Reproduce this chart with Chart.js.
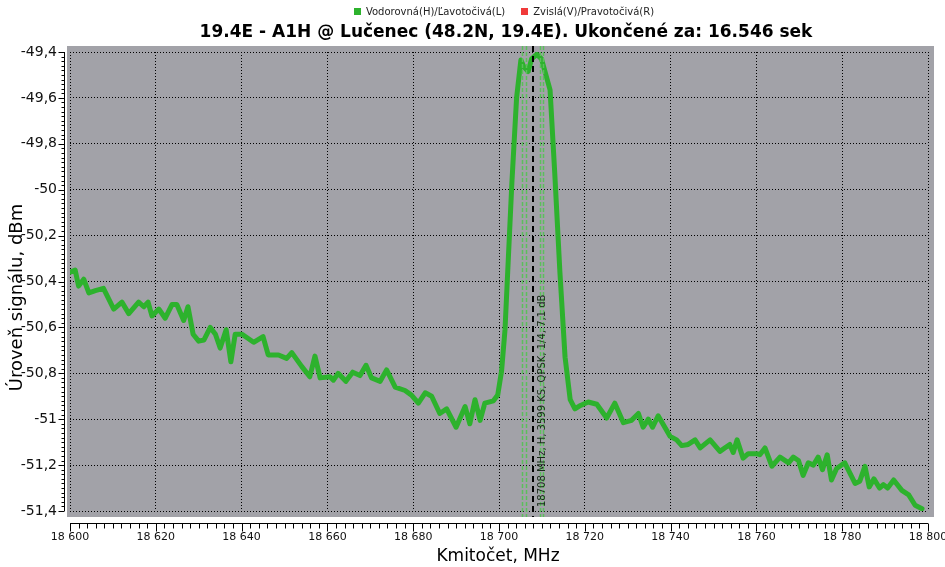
<!DOCTYPE html>
<html><head><meta charset="utf-8">
<script src="https://cdn.jsdelivr.net/npm/chart.js@4.4.1/dist/chart.umd.min.js"></script>
<style>html,body{margin:0;padding:0;background:#fff}</style>
</head><body>
<canvas id="c" width="945" height="567"></canvas>
<script>
// ---- data ----
const freqs = [18600.0,18601.2,18602.0,18603.2,18604.4,18605.9,18607.8,18610.2,18612.1,18613.7,18616.0,18617.2,18618.2,18619.1,18620.7,18622.2,18623.8,18624.9,18626.5,18627.5,18628.7,18630.0,18631.2,18632.7,18633.9,18635.0,18636.4,18637.5,18638.5,18640.1,18642.8,18645.0,18646.2,18648.6,18650.5,18651.7,18654.0,18655.9,18657.1,18658.3,18660.6,18661.4,18662.5,18664.3,18665.9,18667.6,18669.0,18670.3,18672.3,18673.8,18675.8,18678.1,18679.6,18681.2,18682.8,18684.3,18686.2,18687.8,18690.0,18692.1,18693.2,18694.4,18695.6,18696.7,18698.7,18699.7,18700.6,18701.4,18702.2,18703.0,18704.1,18705.1,18705.8,18706.8,18707.6,18708.8,18709.9,18711.9,18713.0,18714.2,18715.4,18716.6,18717.7,18719.0,18720.8,18722.8,18725.1,18727.0,18729.0,18730.9,18732.5,18733.6,18734.8,18735.8,18737.1,18739.9,18741.4,18742.6,18744.1,18745.7,18746.9,18749.2,18751.5,18753.8,18754.6,18755.5,18756.9,18758.1,18760.1,18760.8,18762.0,18763.6,18765.5,18767.5,18768.6,18769.8,18770.9,18772.1,18773.3,18774.4,18775.4,18776.5,18777.5,18778.7,18780.6,18783.0,18784.1,18785.3,18786.3,18787.4,18788.7,18789.6,18790.6,18792.0,18793.9,18795.5,18797.0,18798.6];
const levelsH = [-50.36,-50.35,-50.42,-50.39,-50.45,-50.44,-50.43,-50.52,-50.49,-50.54,-50.49,-50.51,-50.49,-50.55,-50.52,-50.56,-50.50,-50.50,-50.57,-50.51,-50.63,-50.66,-50.655,-50.60,-50.63,-50.69,-50.61,-50.75,-50.63,-50.63,-50.665,-50.64,-50.72,-50.72,-50.735,-50.71,-50.77,-50.815,-50.725,-50.82,-50.815,-50.83,-50.80,-50.835,-50.795,-50.81,-50.765,-50.82,-50.835,-50.785,-50.86,-50.875,-50.895,-50.93,-50.885,-50.90,-50.975,-50.955,-51.035,-50.945,-51.02,-50.915,-51.005,-50.93,-50.92,-50.895,-50.79,-50.61,-50.29,-49.97,-49.60,-49.435,-49.465,-49.485,-49.43,-49.41,-49.43,-49.565,-49.93,-50.36,-50.73,-50.915,-50.955,-50.94,-50.925,-50.935,-50.995,-50.93,-51.015,-51.005,-50.975,-51.035,-51.00,-51.035,-50.985,-51.075,-51.09,-51.115,-51.11,-51.09,-51.125,-51.09,-51.14,-51.11,-51.145,-51.09,-51.17,-51.15,-51.15,-51.155,-51.125,-51.205,-51.165,-51.19,-51.165,-51.18,-51.245,-51.19,-51.20,-51.165,-51.22,-51.155,-51.265,-51.215,-51.19,-51.28,-51.27,-51.205,-51.295,-51.26,-51.30,-51.285,-51.30,-51.265,-51.31,-51.33,-51.375,-51.39];
const levelsV = [];
const seriesNames = ['Vodorovná(H)/Ľavotočivá(L)', 'Zvislá(V)/Pravotočivá(R)'];
const seriesColors = ['#2db22d', '#f03a3a'];
const xTickValues = [18600,18620,18640,18660,18680,18700,18720,18740,18760,18780,18800];
const yTickValues = [-51.4,-51.2,-51,-50.8,-50.6,-50.4,-50.2,-50,-49.8,-49.6,-49.4];
const chartTitle = '19.4E - A1H @ Lučenec (48.2N, 19.4E). Ukončené za: 16.546 sek';
const xTitle = 'Kmitočet, MHz';
const yTitle = 'Úroveň signálu, dBm';
const carrierFreq = [18708];
const bandEdgeFreqs = [18705.4, 18706.3, 18709.5, 18710.2];
const carrierLabel = '18708 MHz, H, 3599 KS, QPSK, 1/4, 7,1 dB';

const FONT = "'DejaVu Sans', Verdana, sans-serif";
const fmtX = v => String(Math.round(v)).replace(/\B(?=(\d{3})+(?!\d))/g, ' ');
const fmtY = v => String(Math.round(v * 10) / 10).replace('.', ',');

const decor = {
  id: 'decor',
  beforeDraw(chart) {
    const {ctx, chartArea: a} = chart;
    ctx.save();
    ctx.fillStyle = '#a2a2a8';
    ctx.fillRect(a.left - 3, a.top - 6, a.right - a.left + 9, a.bottom - a.top + 12);
    ctx.restore();
  },
  afterDatasetsDraw(chart) {
    const {ctx, chartArea: a, scales: {x}} = chart;
    ctx.save();
    ctx.lineWidth = 1.5;
    ctx.setLineDash([4, 2]);
    ctx.strokeStyle = '#5cbf5c';
    bandEdgeFreqs.forEach(f => {
      const px = Math.round(x.getPixelForValue(f)) + 0.5;
      ctx.beginPath(); ctx.moveTo(px, a.top - 6); ctx.lineTo(px, a.bottom + 6); ctx.stroke();
    });
    ctx.lineWidth = 2;
    ctx.setLineDash([6, 4]);
    ctx.strokeStyle = '#000';
    carrierFreq.forEach(f => {
      const px = Math.round(x.getPixelForValue(f));
      ctx.beginPath(); ctx.moveTo(px, a.top - 6); ctx.lineTo(px, a.bottom + 6); ctx.stroke();
      ctx.save();
      ctx.setLineDash([]);
      ctx.translate(px + 9, a.bottom - 4);
      ctx.rotate(-Math.PI / 2);
      ctx.fillStyle = '#1a2a1a';
      ctx.font = "10px 'DejaVu Sans', sans-serif";
      ctx.textAlign = 'left';
      ctx.textBaseline = 'middle';
      ctx.fillText(carrierLabel, 0, 0);
      ctx.restore();
    });
    ctx.restore();
  },
  afterDraw(chart) {
    const {ctx, chartArea: a, scales: {x, y}} = chart;
    ctx.save();
    ctx.setLineDash([]);
    ctx.strokeStyle = '#000';
    ctx.lineWidth = 1;
    // y axis line and ticks
    const yx = a.left - 6 + 0.5;
    ctx.beginPath(); ctx.moveTo(yx, y.getPixelForValue(y.max)); ctx.lineTo(yx, y.getPixelForValue(y.min)); ctx.stroke();
    for (let i = 0; i <= 100; i++) {
      const v = y.min + (y.max - y.min) * i / 100;
      const py = Math.round(y.getPixelForValue(v)) + 0.5;
      const len = (i % 10 === 0) ? 6 : 3;
      ctx.beginPath(); ctx.moveTo(yx, py); ctx.lineTo(yx - len, py); ctx.stroke();
    }
    // x axis line and ticks
    const xy = a.bottom + 12 + 0.5;
    ctx.beginPath(); ctx.moveTo(x.getPixelForValue(x.min), xy); ctx.lineTo(x.getPixelForValue(x.max), xy); ctx.stroke();
    for (let i = 0; i <= 100; i++) {
      const v = x.min + (x.max - x.min) * i / 100;
      const px = Math.round(x.getPixelForValue(v)) + 0.5;
      const len = (i % 10 === 0) ? 8 : 5;
      ctx.beginPath(); ctx.moveTo(px, xy); ctx.lineTo(px, xy + len); ctx.stroke();
    }
    const cx = (a.left + a.right) / 2;
    // title
    ctx.fillStyle = '#000';
    ctx.font = "bold 17px 'DejaVu Sans', sans-serif";
    ctx.textAlign = 'center';
    ctx.textBaseline = 'middle';
    ctx.fillText(chartTitle, cx + 7, 33);
    // legend
    ctx.font = "10px 'DejaVu Sans', sans-serif";
    ctx.textAlign = 'left';
    const items = chart.data.datasets.map(d => ({label: d.label, color: d.borderColor, w: ctx.measureText(d.label).width}));
    const gap = 16;
    const total = items.reduce((s, it) => s + 12 + it.w, 0) + gap * (items.length - 1);
    let lx = cx + 5 - total / 2;
    items.forEach(it => {
      ctx.fillStyle = it.color;
      ctx.fillRect(Math.round(lx), 8, 7, 7);
      ctx.fillStyle = '#222';
      ctx.fillText(it.label, lx + 12, 12);
      lx += 12 + it.w + gap;
    });
    // axis titles
    ctx.fillStyle = '#000';
    ctx.font = "17px 'DejaVu Sans', sans-serif";
    ctx.textAlign = 'center';
    ctx.fillText(xTitle, cx - 1, 557);
    ctx.save();
    ctx.translate(17, (a.top + a.bottom) / 2 + 16);
    ctx.rotate(-Math.PI / 2);
    ctx.font = "18px 'DejaVu Sans', sans-serif";
    ctx.fillText(yTitle, 0, 0);
    ctx.restore();
    ctx.restore();
  }
};

new Chart(document.getElementById('c'), {
  type: 'scatter',
  data: {
    datasets: [
      {
        label: seriesNames[0],
        data: freqs.map((f, i) => ({x: f, y: levelsH[i]})),
        showLine: true,
        borderColor: seriesColors[0],
        backgroundColor: seriesColors[0],
        borderWidth: 5,
        pointRadius: 0,
        tension: 0,
        borderJoinStyle: 'round',
        borderCapStyle: 'round'
      },
      {
        label: seriesNames[1],
        data: levelsV,
        showLine: true,
        borderColor: seriesColors[1],
        backgroundColor: seriesColors[1],
        borderWidth: 5,
        pointRadius: 0
      }
    ]
  },
  options: {
    responsive: false,
    animation: false,
    devicePixelRatio: 1,
    layout: {padding: {top: 52, right: 17, left: 0, bottom: 0}},
    plugins: {legend: {display: false}, title: {display: false}, tooltip: {enabled: false}},
    scales: {
      x: {
        type: 'linear', min: 18600, max: 18800,
        afterBuildTicks: s => { s.ticks = xTickValues.map(v => ({value: v})); },
        afterFit: s => { s.height = 56; s.paddingLeft = 0; s.paddingRight = 0; },
        ticks: {callback: v => fmtX(v), color: '#111', font: {family: FONT, size: 11}, padding: 20, maxRotation: 0, autoSkip: false},
        grid: {color: '#000', lineWidth: 1, drawTicks: false},
        border: {display: false, dash: [1, 2]}
      },
      y: {
        type: 'linear', min: -51.4, max: -49.4,
        afterBuildTicks: s => { s.ticks = yTickValues.map(v => ({value: v})); },
        afterFit: s => { s.width = 70; },
        ticks: {callback: v => fmtY(v), color: '#111', font: {family: FONT, size: 14}, padding: 13, autoSkip: false},
        grid: {color: '#000', lineWidth: 1, drawTicks: false},
        border: {display: false, dash: [1, 2]}
      }
    }
  },
  plugins: [decor]
});
</script>
</body></html>
